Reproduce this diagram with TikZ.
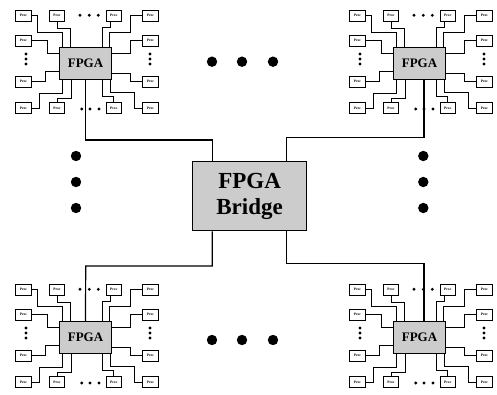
\documentclass[tikz,border=0pt]{standalone}
\usepackage{fontspec}
\setmainfont{Liberation Serif}
\begin{document}
\begin{tikzpicture}[x=1pt,y=-1pt,
  proc/.style={draw, line width=0.6pt, fill=white, minimum width=15.5pt, minimum height=10.7pt, inner sep=0pt, font=\fontsize{3.6}{4}\selectfont\bfseries},
  fpga/.style={draw, line width=0.9pt, fill=black!20, minimum width=52.4pt, minimum height=32pt, inner sep=0pt, font=\fontsize{13}{15}\selectfont\bfseries},
  bridgebox/.style={draw, line width=1.1pt, fill=black!20, minimum width=114.2pt, minimum height=69pt, inner sep=0pt, align=center, font=\fontsize{23}{25.6}\selectfont\bfseries},
  wire/.style={line width=0.8pt},
  bus/.style={line width=1.2pt},
  sdot/.style={fill=black},
]
\useasboundingbox (0,0) rectangle (497,395);

\foreach \dx/\dy/\n in {0/0/tl, 334/0/tr, 0/274/bl, 334/274/br} {
\begin{scope}[shift={(\dx,\dy)}]
  \node[fpga] (f\n) at (85.5,63.3) {FPGA};
  % top row
  \node[proc] (p00\n) at (23.5,15.5) {Proc};
  \node[proc] (p10\n) at (57,15.5) {Proc};
  \node[proc] (p20\n) at (113.8,15.5) {Proc};
  \node[proc] (p30\n) at (150.5,15.5) {Proc};
  % middle rows
  \node[proc] (p01\n) at (23.5,40.5) {Proc};
  \node[proc] (p31\n) at (150.5,40.5) {Proc};
  \node[proc] (p02\n) at (23.5,81.5) {Proc};
  \node[proc] (p32\n) at (150.5,81.5) {Proc};
  % bottom row
  \node[proc] (p03\n) at (23.5,108) {Proc};
  \node[proc] (p13\n) at (57,108) {Proc};
  \node[proc] (p23\n) at (113.8,108) {Proc};
  \node[proc] (p33\n) at (150.5,108) {Proc};
  % connectors top
  \draw[wire] (p00\n.east) -| (37,32) -| (62.7,0 |- f\n.north);
  \draw[wire] (p10\n.south) |- (70.7,28) -- (70.7,0 |- f\n.north);
  \draw[wire] (110,0 |- p20\n.south) |- (102.3,27.5) -- (102.3,0 |- f\n.north);
  \draw[wire] (p30\n.west) -| (130,32) -| (109.5,0 |- f\n.north);
  % connectors sides
  \draw[wire] (p01\n.east) -| (47.5,53.3) -- (f\n.west |- 0,53.3);
  \draw[wire] (p02\n.east) -| (45.7,71.7) -- (f\n.west |- 0,71.7);
  \draw[wire] (p31\n.west) -| (130,53.3) -- (f\n.east |- 0,53.3);
  \draw[wire] (p32\n.west) -| (130,73.3) -- (f\n.east |- 0,73.3);
  % connectors bottom
  \draw[wire] (p03\n.east) -| (39,93.3) -| (62.3,0 |- f\n.south);
  \draw[wire] (p13\n.north) |- (71,98.3) -- (71,0 |- f\n.south);
  \draw[wire] (p23\n.north) |- (102.3,96.7) -- (102.3,0 |- f\n.south);
  \draw[wire] (p33\n.west) -| (134.5,92) -| (110,0 |- f\n.south);
  % small dots
  \foreach \x in {80,89.3,98.3} \fill[sdot] (\x,15.3) circle (1.6);
  \foreach \x in {81.7,90,99} \fill[sdot] (\x,109) circle (1.6);
  \foreach \y in {54,59,64} {
    \fill[sdot] (26,\y) circle (1.6);
    \fill[sdot] (150,\y) circle (1.6);
  }
\end{scope}
}

\node[bridgebox] (br) at (249.6,196.2) {FPGA\\Bridge};

\draw[bus] (ftl.south) |- (212.3,140) -- (212.3,0 |- br.north);
\draw[bus] (286.7,0 |- br.north) |- (424,137.3) -- (424,0 |- ftr.south);
\draw[bus] (212.3,0 |- br.south) |- (85.7,266) -- (fbl.north);
\draw[bus] (286.7,0 |- br.south) |- (424,263.3) -- (424,0 |- fbr.north);

% big dots
\foreach \x in {212,242,273} {
  \fill[sdot] (\x,61.7) circle (5.2);
  \fill[sdot] (\x,340) circle (5.2);
}
\foreach \y in {156,182,208} {
  \fill[sdot] (76,\y) circle (5.2);
  \fill[sdot] (423.3,\y) circle (5.2);
}
\end{tikzpicture}
\end{document}
